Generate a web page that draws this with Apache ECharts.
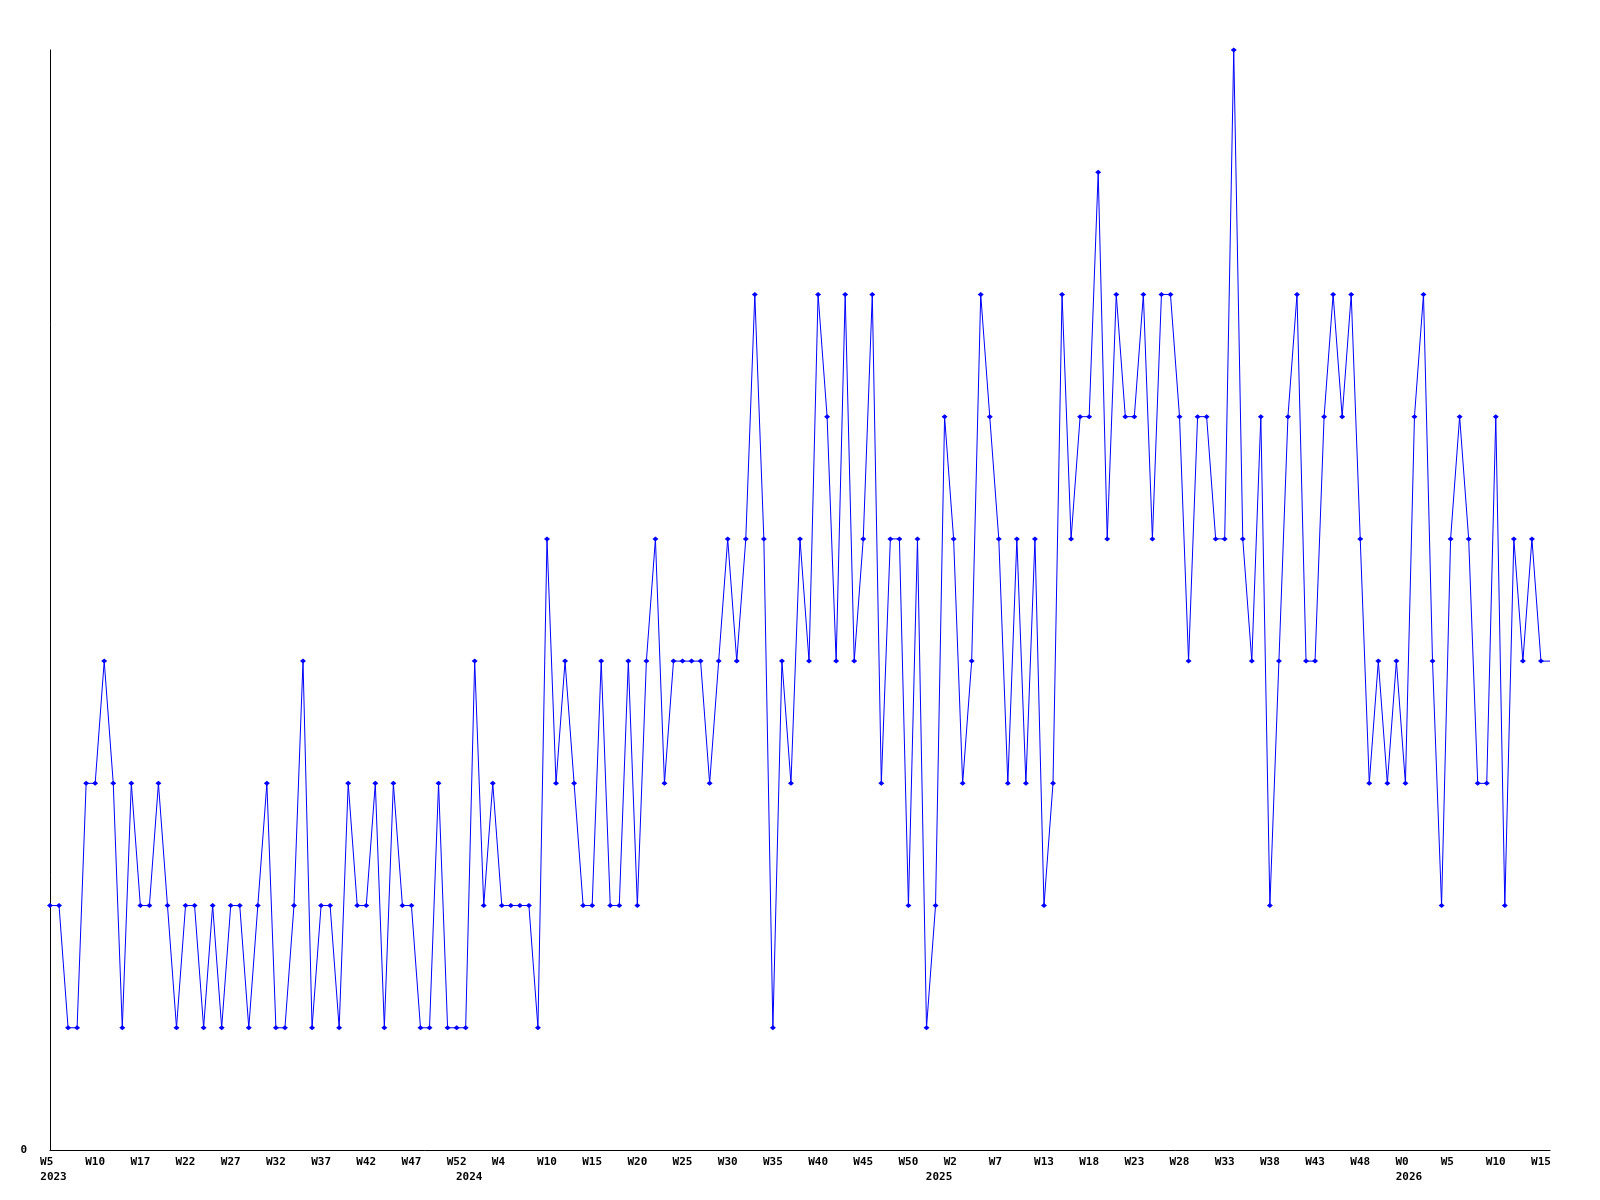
<!DOCTYPE html>
<html>
<head>
<meta charset="utf-8">
<title>weekly</title>
<script src="https://cdn.jsdelivr.net/npm/echarts@6/dist/echarts.min.js"></script>
<style>
  html, body { margin: 0; padding: 0; background: #fff; }
  #chart { width: 1600px; height: 1200px; }
</style>
</head>
<body>
<div id="chart"></div>
<script>
// weekly values, one array per year
const v2023 = [2, 2, 1, 1, 3, 3, 4, 3, 1, 3, 2, 2, 3, 2, 1, 2, 2, 1, 2, 1, 2, 2,
  1, 2, 3, 1, 1, 2, 4, 1, 2, 2, 1, 3, 2, 2, 3, 1, 3, 2, 2, 1, 1, 3, 1, 1]
const v2024 = [1, 4, 2, 3, 2, 2, 2, 2, 1, 5, 3, 4, 3, 2, 2, 4, 2, 2,
  4, 2, 4, 5, 3, 4, 4, 4, 4, 3, 4, 5, 4, 5, 7, 5, 1, 4, 3, 5, 4,
  7, 6, 4, 7, 4, 5, 7, 3, 5, 5, 2, 5, 1]
const v2025 = [2, 6, 5, 3, 4, 7, 6, 5,
  3, 5, 3, 5, 2, 3, 7, 5, 6, 6, 8, 5, 7, 6, 6, 7, 5, 7, 7, 6, 4,
  6, 6, 5, 5, 9, 5, 4, 6, 2, 4, 6, 7, 4, 4, 6, 7, 6, 7, 5, 3, 4,
  3, 4]
const v2026 = [3, 6, 7, 4, 2, 5, 6, 5, 3, 3, 6, 2, 5, 4, 5, 4, 4]

// tick labels, one every 5 points
const weekTicks = ['W5', 'W10', 'W17', 'W22', 'W27', 'W32', 'W37', 'W42', 'W47', 'W52',
  'W4', 'W10', 'W15', 'W20', 'W25', 'W30', 'W35', 'W40', 'W45', 'W50',
  'W2', 'W7', 'W13', 'W18', 'W23', 'W28', 'W33', 'W38', 'W43', 'W48',
  'W0', 'W5', 'W10', 'W15']
const years = ['2023', '2024', '2025', '2026']
const yearStart = [0, 46, 98, 150]

const values = v2023.concat(v2024, v2025, v2026)
const weekCats = values.map((v, i) => (i % 5 === 0 ? weekTicks[i / 5] || '' : ''))
const yearCats = values.map((v, i) => {
  const k = yearStart.indexOf(i)
  return k >= 0 ? years[k] : ''
})

const font = {
  color: '#000',
  fontFamily: 'DejaVu Sans Mono',
  fontWeight: 'bold',
  fontSize: 11
}

const seriesData = values.map((v, i) => (i === values.length - 1 ? { value: v, symbolSize: 0 } : v))

const option = {
  animation: false,
  backgroundColor: '#fff',
  grid: { left: 50, right: 50, top: 50, bottom: 50 },
  xAxis: [
    {
      type: 'category',
      data: weekCats,
      boundaryGap: false,
      axisLine: { lineStyle: { color: '#000', width: 1 } },
      axisTick: { show: false },
      splitLine: { show: false },
      axisLabel: Object.assign({
        interval: 0,
        margin: 7,
        // 2-char labels sit like 3-char ones in the original
        formatter: (s) => (s.length === 2 ? s + ' ' : s)
      }, font)
    },
    {
      type: 'category',
      data: yearCats,
      boundaryGap: false,
      position: 'bottom',
      offset: 15,
      axisLine: { show: false },
      axisTick: { show: false },
      splitLine: { show: false },
      axisLabel: Object.assign({ interval: 0, margin: 7, padding: [0, 0, 0, 7] }, font)
    }
  ],
  yAxis: {
    type: 'value',
    min: 0,
    max: 9,
    interval: 1,
    axisLine: { show: true, lineStyle: { color: '#000', width: 1 } },
    axisTick: { show: false },
    splitLine: { show: false },
    axisLabel: Object.assign({
      margin: 23,
      formatter: (v) => (v === 0 ? '0' : '')
    }, font)
  },
  series: [
    {
      type: 'line',
      data: seriesData,
      symbol: 'diamond',
      symbolSize: [6, 5],
      showAllSymbol: true,
      lineStyle: { color: '#0000ff', width: 1 },
      itemStyle: { color: '#0000ff' }
    }
  ]
}

const chart = echarts.init(document.getElementById('chart'))
chart.setOption(option)
</script>
</body>
</html>
